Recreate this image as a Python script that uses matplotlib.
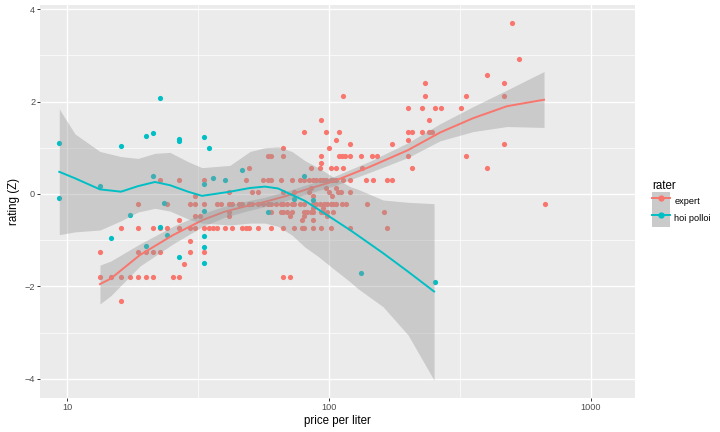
import numpy as np
import matplotlib.pyplot as plt
from matplotlib.patches import Patch
from matplotlib.lines import Line2D
from matplotlib.legend_handler import HandlerTuple
from matplotlib.ticker import FixedLocator, NullFormatter

plt.rcParams['font.family'] = ['Liberation Sans', 'DejaVu Sans']

RED = "#F8766D"
TEAL = "#00BFC4"

# expert ratings, read row by row (bottle price in $, rating Z)
expert_bottle = (
    [375] + [400] + [300] + [175, 350]
    + [85, 175, 250, 350]
    + [150, 170, 190, 200, 240]
    + [70, 180]
    + [60, 73, 82, 150, 155, 170, 180, 185]
    + [80, 150]
    + [90, 130, 350]
    + [50, 75]
    + [44, 45, 50, 70, 82, 84, 86, 90, 99, 109, 114, 150, 250]
    + [70]
    + [37, 64, 69, 76, 80, 85, 100, 155, 300]
    + [17, 20, 25, 36, 42, 44, 45, 49, 54, 58, 60, 63, 65, 67, 69, 71, 73,
       76, 78, 80, 85, 90, 104, 110, 125, 130]
    + [64, 73, 80]
    + [31, 38, 40, 50, 55, 63, 75, 81, 83, 90]
    + [23, 65, 77]
    + [14, 18, 22, 23, 25, 28, 29, 31, 32, 34, 35, 37, 38, 40, 42, 44, 45,
       47, 49, 50, 52, 54, 55, 58, 60, 65, 67, 69, 72, 74, 76, 78, 80, 84,
       87, 105, 500]
    + [65, 71]
    + [31, 45, 49, 50, 52, 54, 60, 62, 64, 65, 70, 71, 74, 78, 122]
    + [23, 24, 31, 53, 60, 74]
    + [20, 59, 65]
    + [12, 14, 16, 17, 18, 20, 22, 23, 25, 26, 27, 28, 30, 32, 35, 36, 37,
       40, 45, 50, 55, 59, 60, 65, 70, 76, 90, 125]
    + [22]
    + [10, 14, 15, 16, 17, 22, 25]
    + [21]
    + [10, 11, 12, 13, 14, 15, 16, 19, 20, 50, 53]
    + [12]
)
expert_rating = (
    [3.69] + [2.92] + [2.57] + [2.40] * 2
    + [2.13] * 4
    + [1.87] * 5
    + [1.61] * 2
    + [1.35] * 8
    + [1.17] * 2
    + [1.08] * 3
    + [1.00] * 2
    + [0.83] * 13
    + [0.66]
    + [0.56] * 9
    + [0.30] * 26
    + [0.14] * 3
    + [0.04] * 10
    + [-0.05] * 3
    + [-0.22] * 37
    + [-0.31] * 2
    + [-0.39] * 15
    + [-0.48] * 6
    + [-0.57] * 3
    + [-0.74] * 28
    + [-1.01]
    + [-1.26] * 7
    + [-1.52]
    + [-1.79] * 11
    + [-2.32]
)

hoi_bottle = [7, 7, 10, 11, 12, 13, 15, 15, 16, 16, 17, 17.5, 17, 18, 20, 20,
              20, 25, 25, 25, 25, 25, 25, 26, 27, 30, 35, 44, 60, 55, 65, 99, 190]
hoi_rating = [1.11, -0.08, 0.18, -0.96, 1.04, -0.45, 1.26, -1.12, 1.31, 0.38,
              2.08, -0.20, -0.71, -0.89, 1.20, 1.14, -1.36, 1.23, 0.21, -0.36,
              -0.90, -1.14, -1.49, 1.00, 0.35, 0.30, 0.53, -0.38, 0.40, -0.11,
              -0.14, -1.72, -1.90]

# smoothed fits (price per liter, fit, upper, lower)
expert_fit_x = [13.33, 14.67, 18.95, 25.34, 33.0, 40.05, 47.75, 56.93, 67.9,
                80.96, 103.6, 143.4, 200.4, 265.5, 354.9, 478.7, 663]
expert_fit = [-1.95, -1.83, -1.32, -0.89, -0.56, -0.38, -0.27, -0.17, -0.05,
              0.09, 0.27, 0.59, 0.95, 1.33, 1.64, 1.90, 2.04]
expert_hi = [-1.54, -1.45, -1.08, -0.70, -0.42, -0.26, -0.16, -0.07, 0.05,
             0.19, 0.37, 0.71, 1.11, 1.52, 1.89, 2.25, 2.65]
expert_lo = [-2.38, -2.20, -1.56, -1.08, -0.70, -0.50, -0.38, -0.27, -0.15,
             -0.01, 0.17, 0.47, 0.79, 1.15, 1.35, 1.46, 1.44]

hoi_fit_x = [9.32, 10.70, 13.33, 16.04, 18.63, 21.63, 24.69, 28.92, 32.71,
             41.84, 49.9, 56.9, 63.86, 72.2, 80.96, 90.8, 103.6, 120.3, 129.1,
             160.9, 200.4, 252]
hoi_fit = [0.48, 0.34, 0.10, 0.05, 0.17, 0.26, 0.19, 0.05, -0.04, 0.05, 0.13,
           0.16, 0.12, -0.02, -0.15, -0.33, -0.54, -0.78, -0.90, -1.28, -1.68,
           -2.11]
hoi_hi = [1.84, 1.30, 0.92, 0.81, 0.77, 0.88, 0.90, 0.70, 0.57, 0.62, 0.92,
          1.00, 1.02, 0.92, 0.72, 0.57, 0.37, 0.16, 0.10, -0.13, -0.18, -0.21]
hoi_lo = [-0.88, -0.82, -0.78, -0.58, -0.39, -0.31, -0.37, -0.54, -0.63, -0.67,
          -0.63, -0.63, -0.70, -0.89, -1.15, -1.35, -1.61, -1.90, -2.05, -2.44,
          -3.05, -4.03]

expert_price = np.array(expert_bottle) / 0.75
hoi_price = np.array(hoi_bottle) / 0.75

fig = plt.figure(figsize=(7.2, 4.32), dpi=100)
ax = fig.add_axes([40 / 720, 1 - 398 / 432, 595 / 720, 393 / 432])
ax.set_facecolor("#EBEBEB")
for s in ax.spines.values():
    s.set_visible(False)

ax.scatter(expert_price, expert_rating, s=14, color=RED, lw=0, zorder=2)
ax.scatter(hoi_price, hoi_rating, s=14, color=TEAL, lw=0, zorder=2)

ax.fill_between(expert_fit_x, expert_lo, expert_hi, color="#999999", alpha=0.4, lw=0, zorder=3)
ax.plot(expert_fit_x, expert_fit, color=RED, lw=1.4, zorder=4)
ax.fill_between(hoi_fit_x, hoi_lo, hoi_hi, color="#999999", alpha=0.4, lw=0, zorder=5)
ax.plot(hoi_fit_x, hoi_fit, color=TEAL, lw=1.4, zorder=6)

ax.set_xscale("log")
ax.set_xlim(7.865, 1476)
ax.set_ylim(-4.415, 4.09)
ax.xaxis.set_major_locator(FixedLocator([10, 100, 1000]))
ax.set_xticklabels(["10", "100", "1000"])
ax.xaxis.set_minor_locator(FixedLocator([10 ** 1.5, 10 ** 2.5]))
ax.xaxis.set_minor_formatter(NullFormatter())
ax.set_yticks([-4, -2, 0, 2, 4])
ax.yaxis.set_minor_locator(FixedLocator([-3, -1, 1, 3]))
ax.grid(True, which="major", color="white", lw=1.0, zorder=0)
ax.grid(True, which="minor", color="white", lw=0.5, zorder=0)
ax.set_axisbelow(True)
ax.tick_params(which="major", length=2, width=0.7, color="#333333",
               labelsize=6.6, labelcolor="#4D4D4D", pad=1.5)
ax.tick_params(which="minor", length=0)

ax.set_xlabel("price per liter", fontsize=8.3, labelpad=2)
ax.set_ylabel("rating (Z)", fontsize=8.3, labelpad=3)

handles = [
    (Patch(facecolor="#CACACA", edgecolor="none"),
     Line2D([], [], color=RED, lw=1.4, marker="o", markersize=3.5)),
    (Patch(facecolor="#CACACA", edgecolor="none"),
     Line2D([], [], color=TEAL, lw=1.4, marker="o", markersize=3.5)),
]
leg = fig.legend(handles, ["expert", "hoi polloi"], title="rater",
                 handler_map={tuple: HandlerTuple(ndivide=1)},
                 loc="upper left", bbox_to_anchor=(645 / 720, 1 - 173 / 432),
                 frameon=False, fontsize=6.6, title_fontsize=8.3,
                 handlelength=1.9, handleheight=2.5, labelspacing=0.0,
                 handletextpad=0.5, borderpad=0.3, alignment="left")

fig.savefig("out.png", dpi=100)
